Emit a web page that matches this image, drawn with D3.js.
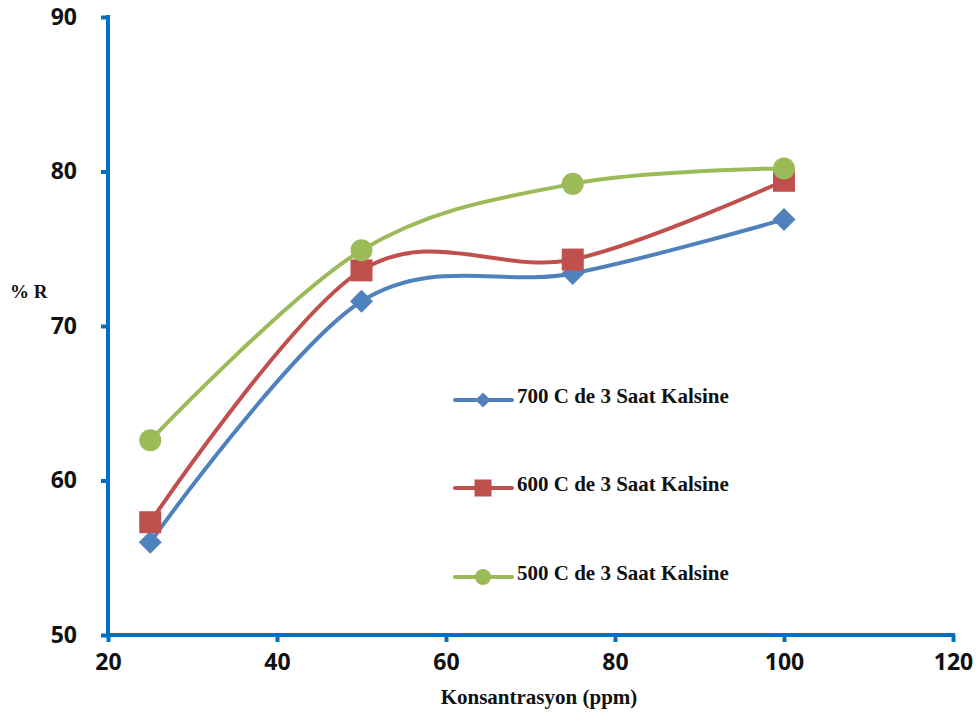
<!DOCTYPE html>
<html>
<head>
<meta charset="utf-8">
<script src="https://cdn.jsdelivr.net/npm/d3@7"></script>
<style>
  html, body { margin: 0; padding: 0; background: #fff; }
  svg { display: block; }
</style>
</head>
<body>
<svg id="chart" width="978" height="718"></svg>
<script>
// Concentration (ppm) and %R for each calcination temperature
const concentrations = [25, 50, 75, 100];
const r700 = [56.0, 71.6, 73.4, 76.9];
const r600 = [57.3, 73.6, 74.3, 79.4];
const r500 = [62.6, 74.9, 79.2, 80.2];
const seriesNames = ["700 C de 3 Saat Kalsine", "600 C de 3 Saat Kalsine", "500 C de 3 Saat Kalsine"];
const xTicks = [20, 40, 60, 80, 100, 120];
const yTicks = [50, 60, 70, 80, 90];

const series = [
  { name: seriesNames[0], values: r700, color: "#4F81BD", shape: "diamond" },
  { name: seriesNames[1], values: r600, color: "#C0504D", shape: "square" },
  { name: seriesNames[2], values: r500, color: "#9BBB59", shape: "circle" }
];

const svg = d3.select("#chart");
const axisColor = "#0070C0";
const serif = "'Liberation Serif', 'Times New Roman', serif";

const x = d3.scaleLinear().domain([20, 120]).range([108, 953]);
const y = d3.scaleLinear().domain([50, 90]).range([635, 17]);

// Axes
const xAxis = d3.axisBottom(x).tickValues(xTicks).tickSize(7).tickPadding(12).tickSizeOuter(0);
const yAxis = d3.axisLeft(y).tickValues(yTicks).tickSize(7).tickPadding(24).tickSizeOuter(0);

const gx = svg.append("g").attr("transform", `translate(0,${y(50)})`).call(xAxis);
const gy = svg.append("g").attr("transform", `translate(${x(20)},0)`).call(yAxis);

[gx, gy].forEach(g => {
  g.select(".domain").attr("stroke", axisColor).attr("stroke-width", 4);
  g.selectAll(".tick line").attr("stroke", axisColor).attr("stroke-width", 4);
  g.selectAll(".tick text")
    .attr("fill", "#111")
    .attr("font-family", "'Open Sans', sans-serif")
    .attr("font-weight", 700)
    .attr("font-size", 23);
});
gy.select(".domain").attr("d", `M0,${y(90) - 2}V${y(50) + 2}`);
gx.select(".domain").attr("d", `M${x(20) - 2},0H${x(120) + 2}`);

// Axis titles
svg.append("text")
  .attr("x", 539).attr("y", 704)
  .attr("text-anchor", "middle")
  .attr("font-family", serif)
  .attr("font-weight", 700).attr("font-size", 21)
  .attr("fill", "#111")
  .text("Konsantrasyon (ppm)");

svg.append("text")
  .attr("x", 10).attr("y", 298)
  .attr("font-family", serif)
  .attr("font-weight", 700).attr("font-size", 19)
  .attr("fill", "#111")
  .text("% R");

// Smoothed series lines and markers
const line = d3.line()
  .x((d, i) => x(concentrations[i]))
  .y(d => y(d))
  .curve(d3.curveCatmullRom.alpha(0));

function drawMarker(g, shape, cx, cy, size, color) {
  if (shape === "circle") {
    g.append("circle").attr("cx", cx).attr("cy", cy).attr("r", size / 2).attr("fill", color);
  } else if (shape === "square") {
    g.append("rect").attr("x", cx - size / 2).attr("y", cy - size / 2)
      .attr("width", size).attr("height", size).attr("fill", color);
  } else {
    const h = size / 2;
    g.append("path").attr("d", `M${cx},${cy - h}L${cx + h},${cy}L${cx},${cy + h}L${cx - h},${cy}Z`)
      .attr("fill", color);
  }
}

const markerSize = { diamond: 23, square: 22, circle: 22 };

series.forEach(s => {
  const g = svg.append("g");
  g.append("path")
    .datum(s.values)
    .attr("d", line)
    .attr("fill", "none")
    .attr("stroke", s.color)
    .attr("stroke-width", 4)
    .attr("stroke-linecap", "round");
  s.values.forEach((v, i) => drawMarker(g, s.shape, x(concentrations[i]), y(v), markerSize[s.shape], s.color));
});

// Legend
const legendRows = [400, 488, 577];
const legendMarker = { diamond: 15, square: 17, circle: 16 };
series.forEach((s, i) => {
  const g = svg.append("g");
  const ly = legendRows[i];
  g.append("line").attr("x1", 455).attr("x2", 512).attr("y1", ly).attr("y2", ly)
    .attr("stroke", s.color).attr("stroke-width", 4).attr("stroke-linecap", "round");
  drawMarker(g, s.shape, 483, ly, legendMarker[s.shape], s.color);
  g.append("text")
    .attr("x", 517).attr("y", ly - 2)
    .attr("dominant-baseline", "middle")
    .attr("font-family", serif)
    .attr("font-weight", 700).attr("font-size", 21)
    .attr("fill", "#111")
    .text(s.name);
});
</script>
</body>
</html>
